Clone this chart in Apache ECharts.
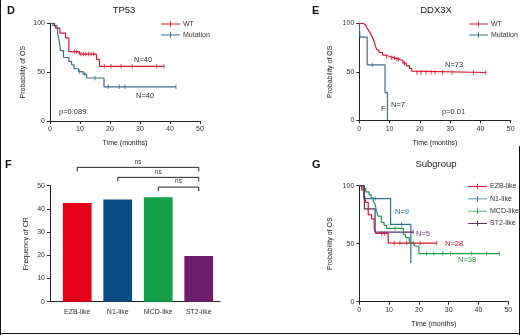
<!DOCTYPE html>
<html>
<head>
<meta charset="utf-8">
<script src="https://cdn.jsdelivr.net/npm/echarts@6/dist/echarts.min.js"></script>
<style>
  html, body { margin: 0; padding: 0; background: #fff; }
  #chart { width: 520px; height: 335px; }
</style>
</head>
<body>
<div id="chart"></div>
<script>
// ---- data ----
// D: TP53, [months, % surviving] at each step
const tp53Wt = [[0, 100], [1.5, 97.5], [2.3, 95], [3.3, 90], [5.2, 85], [6.3, 71], [9.8, 68.5], [15.5, 63], [16.5, 56], [38, 56]];
const tp53WtCensor = [[8.1, 71], [8.9, 71], [10.3, 68.5], [11.1, 68.5], [11.9, 68.5], [12.8, 68.5], [13.7, 68.5], [14.6, 68.5],
  [18.1, 56], [20.3, 56], [23.7, 56], [27.4, 56], [35.6, 56], [38, 56]];
const tp53Mut = [[0, 100], [1, 97.5], [1.8, 95], [2.5, 90], [3, 83], [3.5, 72], [4.5, 65], [6.3, 61], [7.2, 57.5], [8, 53.5],
  [9.5, 50.5], [11, 48], [12.2, 44], [18, 35], [42, 35]];
const tp53MutCensor = [[9.9, 50.5], [11.6, 48], [15, 44], [19.4, 35], [23.1, 35], [25, 35], [42, 35]];

// E: DDX3X
const ddxWt = [[0, 100], [1.2, 98.6], [2, 97], [2.4, 95.9], [3, 93], [3.5, 90.4], [4, 87.7], [4.6, 83.5], [5.1, 79.4], [5.3, 76.7],
  [5.8, 72.6], [6.5, 69.9], [7.7, 67.1], [8.8, 65.8], [10, 64.4], [11.7, 63], [13.3, 61.6], [14.4, 58.9], [15.5, 56.2],
  [16.6, 53.4], [17.3, 50.7], [17.9, 49.3], [42, 49.3]];
const ddxWtCensor = [[9, 65.8], [10.7, 64.4], [11.6, 64.4], [12.4, 63], [12.9, 63], [14.9, 58.9],
  [19, 49.3], [20.4, 49.3], [22, 49.3], [23.7, 49.3], [25, 49.3], [27.5, 49.3], [30.6, 49.3], [37.7, 49.3], [41.6, 49.3]];
const ddxMut = [[0, 100], [0.2, 85.7], [2.6, 57.1], [8.5, 28.6], [9.3, 0]];
const ddxMutCensor = [[4.3, 57.1]];

// F: frequency of CR by subgroup
const subgroups = ['EZB-like', 'N1-like', 'MCD-like', 'ST2-like'];
const crFreq = [42.5, 44, 45, 19.7];
const subgroupBarColors = ['#e2001a', '#0b4a85', '#14a048', '#6b1f6b'];
// brackets: [from index, to index, level]
const brackets = [[0, 3, 57.9], [1, 3, 53.6], [2, 3, 49.4]];
const bracketLabels = ['ns', 'ns', 'ns'];

// G: subgroup survival
const ezbSurv = [[0, 100], [0.8, 96.4], [1.6, 92.9], [2.2, 85.7], [3, 75], [4.1, 71.4], [5, 64.3], [5.5, 58.9], [9.7, 50.5], [26, 50.5]];
const ezbCensor = [[7.5, 58.9], [8.4, 58.9], [11.7, 50.5], [13.6, 50.5], [15.9, 50.5], [18.1, 50.5], [20.4, 50.5], [26, 50.5]];
const n1Surv = [[0, 100], [1.5, 88.9], [10.5, 66.7], [17.3, 33.3]];
const n1Censor = [[5.3, 88.9], [14.2, 66.7]];
const mcdSurv = [[0, 100], [1.3, 97.4], [2.2, 94.7], [3.3, 92.1], [4, 89.5], [4.7, 86.8], [5.3, 84.2], [5.7, 78.9], [6.3, 73.7],
  [7.4, 68.4], [8.3, 65.8], [9.2, 63.2], [14.8, 57.9], [15.5, 55.3], [16.8, 50.5], [18.5, 48], [20, 41.5], [47, 41.5]];
const mcdCensor = [[12, 63.2], [22.6, 41.5], [25, 41.5], [28, 41.5], [30.6, 41.5], [37.7, 41.5], [42.7, 41.5], [47, 41.5]];
const st2Surv = [[0, 100], [1.7, 80], [5.3, 60], [18.1, 60]];
const st2Censor = [[18.1, 60]];

const RED = '#d7182f';
const BLUE = '#3a6d98';
const NAVY = '#2f6aa3';
const GREEN = '#1f9e4e';
const PURPLE = '#6a2a6e';
const FONT = 'Liberation Sans';
const TICK_ICON = 'path://M0,2.6h20v0.9H0z M9.5,0h1v6h-1z';

const chart = echarts.init(document.getElementById('chart'));

function timeAxis(grid, max) {
  return {
    type: 'value', gridIndex: grid, min: 0, max: max, interval: 10,
    name: 'Time (months)', nameLocation: 'middle', nameGap: 19,
    nameTextStyle: { fontSize: 7, color: '#222' },
    axisLine: { lineStyle: { color: '#222', width: 1 } },
    axisTick: { length: 3, lineStyle: { color: '#222' } },
    axisLabel: { fontSize: 7, color: '#333', margin: 5 },
    splitLine: { show: false },
  };
}

function probAxis(grid, gap) {
  return {
    type: 'value', gridIndex: grid, min: 0, max: 100, interval: 50,
    name: 'Probability of OS', nameLocation: 'middle', nameGap: gap,
    nameTextStyle: { fontSize: 7, color: '#222' },
    axisLine: { show: true, lineStyle: { color: '#222', width: 1 } },
    axisTick: { show: true, length: 3, lineStyle: { color: '#222' } },
    axisLabel: { fontSize: 7, color: '#333', margin: 5 },
    splitLine: { show: false },
  };
}

function kmLine(name, data, color, axis) {
  return {
    name, type: 'line', step: 'end', data, xAxisIndex: axis, yAxisIndex: axis,
    showSymbol: false, symbol: 'none', lineStyle: { color, width: 1.2 }, itemStyle: { color },
    silent: true, z: 3,
  };
}

function censor(name, data, color, axis) {
  return {
    name: name + ' censored', type: 'scatter', data, xAxisIndex: axis, yAxisIndex: axis,
    symbol: 'rect', symbolSize: [1, 4.5], itemStyle: { color }, silent: true, z: 4,
  };
}

function note(text, x, y, color) {
  return {
    type: 'text', left: x, top: y,
    style: { text, fill: color || '#333', font: '7.5px ' + FONT },
  };
}

function legendBox(names, left, top, gap) {
  return {
    data: names, left, top, orient: 'vertical', itemGap: gap, padding: 0,
    itemWidth: 19, itemHeight: 6, icon: TICK_ICON, selectedMode: false,
    textStyle: { fontSize: 7, color: '#333', padding: [0, 0, 0, -2] },
  };
}

const titleStyle = { fontSize: 9.5, fontWeight: 'normal', color: '#222' };

const option = {
  animation: false,
  textStyle: { fontFamily: FONT },
  title: [
    { text: 'TP53', left: 124, top: 5, padding: 0, textAlign: 'center', textStyle: titleStyle },
    { text: 'DDX3X', left: 436, top: 5, padding: 0, textAlign: 'center', textStyle: titleStyle },
    { text: 'Subgroup', left: 436, top: 159, padding: 0, textAlign: 'center', textStyle: titleStyle },
  ],
  legend: [
    legendBox(['WT', 'Mutation'], 161, 20.5, 4),
    legendBox(['WT ', 'Mutation '], 469, 20.5, 4),
    legendBox(subgroups, 468, 183, 5.3),
  ],
  grid: [
    { left: 50, top: 23.3, width: 150, height: 97.7 },
    { left: 359.3, top: 23.3, width: 151.4, height: 97 },
    { left: 57, top: 185.7, width: 162, height: 116 },
    { left: 359.3, top: 185.7, width: 149, height: 116 },
    { left: 50, top: 185.7, width: 170, height: 116 },
  ],
  xAxis: [
    timeAxis(0, 50),
    timeAxis(1, 50),
    {
      type: 'category', gridIndex: 2, data: subgroups,
      axisLine: { show: false },
      axisTick: { alignWithLabel: true, length: 3, lineStyle: { color: '#222' } },
      axisLabel: { fontSize: 7, color: '#333', margin: 7 },
    },
    timeAxis(3, 50),
    {
      type: 'value', gridIndex: 4, min: 0, max: 1,
      axisLine: { lineStyle: { color: '#222', width: 1 } },
      axisTick: { show: false }, axisLabel: { show: false }, splitLine: { show: false },
    },
  ],
  yAxis: [
    probAxis(0, 23),
    probAxis(1, 26),
    {
      type: 'value', gridIndex: 2, min: 0, max: 50, interval: 10, offset: 7,
      name: 'Frequency of CR', nameLocation: 'middle', nameGap: 20,
      nameTextStyle: { fontSize: 7, color: '#222' },
      axisLine: { show: true, lineStyle: { color: '#222', width: 1 } },
      axisTick: { show: true, length: 3, lineStyle: { color: '#222' } },
      axisLabel: { fontSize: 7, color: '#333', margin: 5 },
      splitLine: { show: false },
    },
    probAxis(3, 26),
    { type: 'value', gridIndex: 4, show: false },
  ],
  series: [
    kmLine('WT', tp53Wt, RED, 0),
    censor('WT', tp53WtCensor, RED, 0),
    kmLine('Mutation', tp53Mut, BLUE, 0),
    censor('Mutation', tp53MutCensor, BLUE, 0),

    kmLine('WT ', ddxWt, RED, 1),
    censor('WT ', ddxWtCensor, RED, 1),
    kmLine('Mutation ', ddxMut, BLUE, 1),
    censor('Mutation ', ddxMutCensor, BLUE, 1),

    {
      type: 'bar', xAxisIndex: 2, yAxisIndex: 2, barCategoryGap: '29%', silent: true,
      data: crFreq.map((v, i) => ({ value: v, itemStyle: { color: subgroupBarColors[i] } })),
    },
    {
      type: 'custom', xAxisIndex: 2, yAxisIndex: 2, clip: false, silent: true, z: 5,
      data: brackets,
      renderItem(params, api) {
        const a = api.coord([api.value(0), api.value(2)]);
        const b = api.coord([api.value(1), api.value(2)]);
        const style = { stroke: '#222', lineWidth: 1, fill: null };
        return {
          type: 'group',
          children: [
            { type: 'polyline', shape: { points: [[a[0], a[1] + 4], [a[0], a[1]], [b[0], b[1]], [b[0], b[1] + 4]] }, style },
            {
              type: 'text', x: (a[0] + b[0]) / 2, y: a[1] - 2,
              style: { text: bracketLabels[params.dataIndex], fill: '#333', font: '6.5px ' + FONT, align: 'center', verticalAlign: 'bottom' },
            },
          ],
        };
      },
    },

    kmLine('EZB-like', ezbSurv, RED, 3),
    censor('EZB-like', ezbCensor, RED, 3),
    kmLine('N1-like', n1Surv, NAVY, 3),
    censor('N1-like', n1Censor, NAVY, 3),
    kmLine('MCD-like', mcdSurv, GREEN, 3),
    censor('MCD-like', mcdCensor, GREEN, 3),
    kmLine('ST2-like', st2Surv, PURPLE, 3),
    censor('ST2-like', st2Censor, PURPLE, 3),
  ],
  graphic: [
    { type: 'text', left: 7, top: 5, style: { text: 'D', fill: '#111', font: 'bold 11px ' + FONT } },
    { type: 'text', left: 312, top: 5, style: { text: 'E', fill: '#111', font: 'bold 11px ' + FONT } },
    { type: 'text', left: 5, top: 159, style: { text: 'F', fill: '#111', font: 'bold 11px ' + FONT } },
    { type: 'text', left: 312, top: 159, style: { text: 'G', fill: '#111', font: 'bold 11px ' + FONT } },

    note('N=40', 134, 56),
    note('N=40', 136, 92),
    note('p=0.089', 59, 108),

    note('N=73', 445, 61),
    note('F', 381, 105),
    note('N=7', 391, 101),
    note('p=0.01', 442, 108),

    note('N=9', 395, 208, NAVY),
    note('N=5', 416, 230, '#8a3a9a'),
    note('N=28', 445, 240, RED),
    note('N=38', 458, 256, GREEN),

    // outer frame of the figure
    { type: 'line', shape: { x1: 0.5, y1: 0, x2: 0.5, y2: 335 }, style: { stroke: '#111', lineWidth: 1 } },
    { type: 'line', shape: { x1: 0, y1: 333.5, x2: 520, y2: 333.5 }, style: { stroke: '#111', lineWidth: 1 } },
    { type: 'line', shape: { x1: 519.5, y1: 146, x2: 519.5, y2: 335 }, style: { stroke: '#111', lineWidth: 1 } },
  ],
};

chart.setOption(option);
</script>
</body>
</html>
